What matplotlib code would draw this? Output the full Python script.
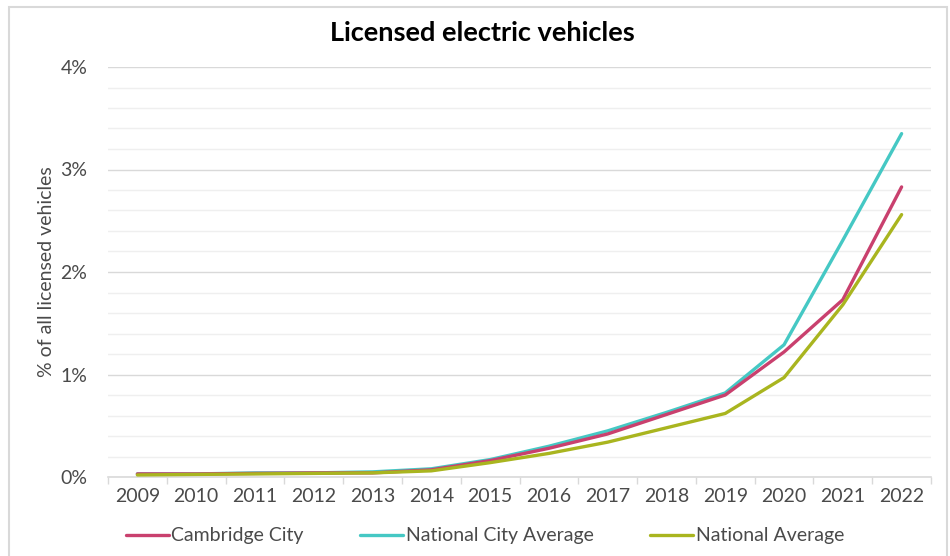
import numpy as np
import matplotlib as mpl
mpl.use('Agg')
import matplotlib.pyplot as plt
from matplotlib.patches import Rectangle
from matplotlib.ticker import FixedLocator, FuncFormatter

mpl.rc('font', family=['Lato', 'DejaVu Sans'])

years = ['2009', '2010', '2011', '2012', '2013', '2014', '2015',
         '2016', '2017', '2018', '2019', '2020', '2021', '2022']

# % of all licensed vehicles
cambridge = [0.03, 0.03, 0.035, 0.04, 0.04, 0.07, 0.16, 0.28, 0.42, 0.61, 0.80, 1.22, 1.73, 2.83]
nat_city = [0.03, 0.03, 0.04, 0.04, 0.05, 0.08, 0.17, 0.30, 0.45, 0.63, 0.82, 1.29, 2.31, 3.35]
national = [0.02, 0.025, 0.03, 0.035, 0.04, 0.06, 0.14, 0.23, 0.34, 0.48, 0.62, 0.97, 1.68, 2.56]

c_cam = '#c9406e'
c_city = '#45c8c4'
c_nat = '#a9b51f'
grid_major = '#d9d9d9'
grid_minor = '#efefef'
txt = '#4a4a4a'
fs = 14

fig = plt.figure(figsize=(9.5, 5.56), dpi=100)

# outer frame of the chart
fig.patches.append(Rectangle((9/950., -0.02), 938/950., 1 - 7/556. + 0.02,
                             transform=fig.transFigure, fill=False,
                             ec='#d9d9d9', lw=1.5))

ax = fig.add_axes([108/950., 1 - 477/556., (931 - 108)/950., (477 - 67)/556.])

x = np.arange(len(years))
ax.plot(x, cambridge, c=c_cam, lw=2.4, label='Cambridge City', solid_capstyle='round', zorder=3)
ax.plot(x, nat_city, c=c_city, lw=2.4, label='National City Average', solid_capstyle='round', zorder=2)
ax.plot(x, national, c=c_nat, lw=2.4, label='National Average', solid_capstyle='round', zorder=4)

ax.set_xlim(-0.5, len(years) - 0.5)
ax.set_ylim(0, 4)

ax.set_yticks([0, 1, 2, 3, 4])
ax.yaxis.set_minor_locator(FixedLocator(np.arange(0.2, 4, 0.2)))
ax.yaxis.set_major_formatter(FuncFormatter(lambda v, p: '%d%%' % v))
ax.grid(axis='y', which='major', color=grid_major, lw=1.0)
ax.grid(axis='y', which='minor', color=grid_minor, lw=1.0)
ax.set_axisbelow(True)
ax.tick_params(axis='y', which='both', length=0, pad=15, labelsize=fs, labelcolor=txt)

ax.set_xticks(np.arange(-0.5, len(years), 1.0))
ax.set_xticklabels([])
ax.set_xticks(x, minor=True)
ax.set_xticklabels(years, minor=True)
ax.tick_params(axis='x', which='major', length=5, color=grid_major, width=1)
ax.tick_params(axis='x', which='minor', length=0, pad=8, labelsize=fs, labelcolor=txt)

for s in ['top', 'right', 'left']:
    ax.spines[s].set_visible(False)
ax.spines['bottom'].set_color(grid_major)
ax.spines['bottom'].set_linewidth(1.2)

ax.set_ylabel('% of all licensed vehicles', fontsize=fs, color=txt, labelpad=4)

fig.text(482/950., 1 - 33/556., 'Licensed electric vehicles', ha='center', va='center',
         fontsize=19.5, fontweight='bold', color='black')

ax.legend(loc='center', bbox_to_anchor=(485/950., 1 - 536/556.),
          bbox_transform=fig.transFigure, ncol=3, frameon=False, fontsize=fs,
          handlelength=2.2, handletextpad=0.15, columnspacing=2.9, labelcolor=txt)

plt.savefig('out.png', dpi=100)
